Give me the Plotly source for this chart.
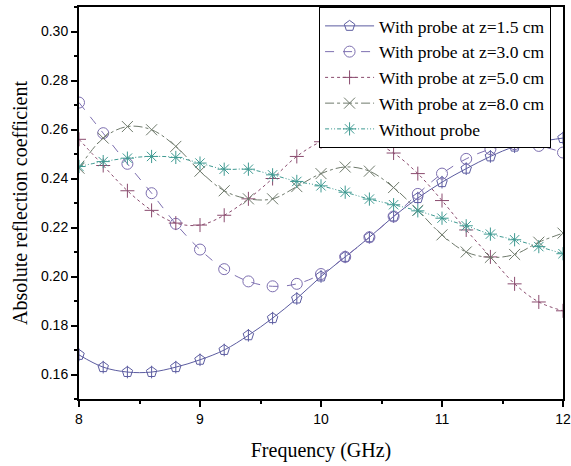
import plotly.graph_objects as go

freq = [8.0, 8.2, 8.4, 8.6, 8.8, 9.0, 9.2, 9.4, 9.6, 9.8, 10.0,
        10.2, 10.4, 10.6, 10.8, 11.0, 11.2, 11.4, 11.6, 11.8, 12.0]

z15 = [0.168, 0.163, 0.161, 0.161, 0.163, 0.166, 0.170, 0.176, 0.183, 0.191, 0.200,
       0.208, 0.216, 0.2245, 0.232, 0.2385, 0.244, 0.249, 0.253, 0.255, 0.2565]
z30 = [0.271, 0.2585, 0.246, 0.234, 0.2215, 0.211, 0.203, 0.198, 0.196, 0.197, 0.201,
       0.208, 0.216, 0.2245, 0.2337, 0.242, 0.248, 0.252, 0.254, 0.2533, 0.2506]
z50 = [0.256, 0.2453, 0.235, 0.227, 0.2218, 0.221, 0.225, 0.2317, 0.240, 0.249, 0.255,
       0.2576, 0.2555, 0.2504, 0.242, 0.231, 0.219, 0.208, 0.197, 0.1896, 0.186]
z80 = [0.2442, 0.2565, 0.2612, 0.2599, 0.2531, 0.243, 0.235, 0.2317, 0.2317, 0.2367, 0.242,
       0.2447, 0.243, 0.2363, 0.227, 0.217, 0.210, 0.2078, 0.209, 0.214, 0.2177]
noprobe = [0.2449, 0.2469, 0.2483, 0.249, 0.2486, 0.2463, 0.2438, 0.2438, 0.2415, 0.2388, 0.237,
           0.2344, 0.2316, 0.2293, 0.2268, 0.2238, 0.2207, 0.2173, 0.215, 0.2122, 0.2093]

names = ["With probe at z=1.5 cm", "With probe at z=3.0 cm", "With probe at z=5.0 cm",
         "With probe at z=8.0 cm", "Without probe"]

series = [z15, z30, z50, z80, noprobe]
colors = ["#5c5ca0", "#7d6fb0", "#8a4b6e", "#6f7a6c", "#3f9a92"]
dashes = ["solid", "dash", "dot", "dashdot", "4px,2px,1px,2px,1px,2px"]
symbols = ["pentagon-open", "circle-open", "cross-thin-open", "x-thin-open", "asterisk-open"]
sizes = [11, 11, 10, 11, 11]

fig = go.Figure()
for i, (y, n, c, d, s, sz) in enumerate(zip(series, names, colors, dashes, symbols, sizes)):
    fig.add_trace(go.Scatter(
        x=freq, y=y, name=n, mode="lines+markers", legendgroup=n,
        line=dict(color=c, width=1, dash=d, shape="spline"),
        marker=dict(symbol=s, size=sz, color=c, line=dict(color=c, width=1)),
    ))
    if i == 0:
        fig.add_trace(go.Scatter(
            x=freq, y=y, mode="markers", legendgroup=n, showlegend=False,
            marker=dict(symbol="line-ns-open", size=9, color=c, line=dict(color=c, width=1)),
            hoverinfo="skip",
        ))

fig.update_layout(
    width=571, height=466,
    margin=dict(l=79, r=8, t=7, b=67),
    plot_bgcolor="white", paper_bgcolor="white",
    showlegend=True,
    legend=dict(
        x=0.496, y=1.0, xanchor="left", yanchor="top",
        bgcolor="white", bordercolor="black", borderwidth=1,
        font=dict(family="Liberation Serif, Times New Roman, serif", size=17.5, color="black"),
        itemwidth=49, tracegroupgap=0,
    ),
)

fig.update_xaxes(
    range=[8, 12], dtick=1, tick0=8, automargin=False,
    ticks="outside", ticklen=6, tickwidth=1.5, tickcolor="black",
    minor=dict(dtick=0.5, ticks="outside", ticklen=3, tickwidth=1.5, tickcolor="black"),
    showline=True, linecolor="black", linewidth=2, mirror=True,
    showgrid=False, zeroline=False, ticklabeloverflow="allow",
    tickfont=dict(family="Liberation Sans", size=14, color="black"),
    title=dict(text="Frequency (GHz)", font=dict(family="Liberation Serif, serif", size=20, color="black"), standoff=17),
)
fig.update_yaxes(
    range=[0.15, 0.31], dtick=0.02, tick0=0.16, tickformat=".2f", automargin=False,
    ticks="outside", ticklen=6, tickwidth=1.5, tickcolor="black",
    minor=dict(dtick=0.01, ticks="outside", ticklen=3, tickwidth=1.5, tickcolor="black"),
    showline=True, linecolor="black", linewidth=2, mirror=True,
    showgrid=False, zeroline=False,
    tickfont=dict(family="Liberation Sans", size=14, color="black"),
    title=dict(text="Absolute reflection coefficient", font=dict(family="Liberation Serif, serif", size=20, color="black"), standoff=8),
)

fig.write_html("out.html", config={"displayModeBar": False},
               post_script="document.body.style.margin='0';document.body.style.overflow='hidden';")
